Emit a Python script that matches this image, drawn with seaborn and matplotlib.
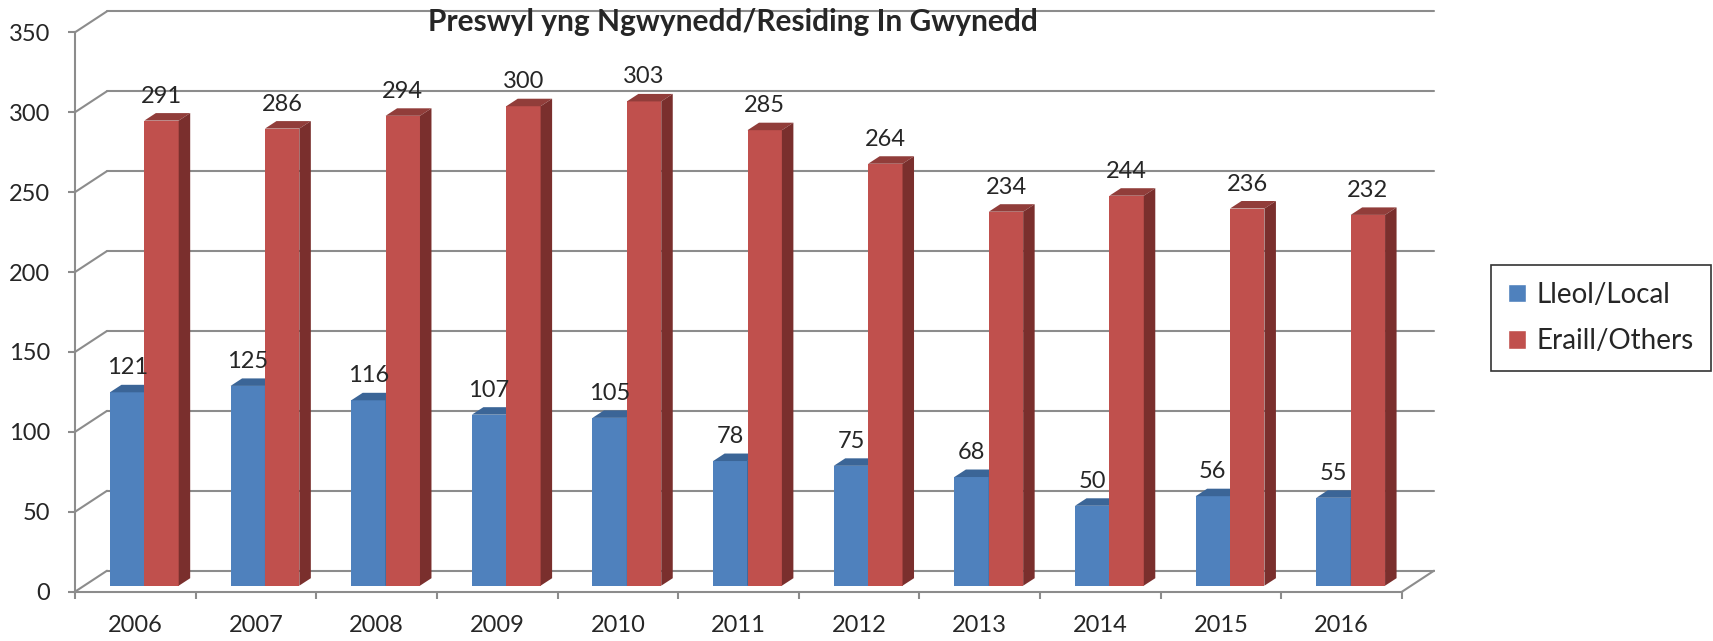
import pandas as pd
import matplotlib
matplotlib.use("Agg")
import matplotlib.pyplot as plt
import seaborn as sns
from matplotlib.patches import Polygon
from matplotlib.transforms import ScaledTranslation

# chart data
years = ["2006", "2007", "2008", "2009", "2010", "2011", "2012", "2013", "2014", "2015", "2016"]
local = [121, 125, 116, 107, 105, 78, 75, 68, 50, 56, 55]
others = [291, 286, 294, 300, 303, 285, 264, 234, 244, 236, 232]
groups = ["Lleol/Local", "Eraill/Others"]
y_ticks = [0, 50, 100, 150, 200, 250, 300, 350]

df = pd.DataFrame({
    "Year": years * 2,
    "Count": local + others,
    "Group": [groups[0]] * len(years) + [groups[1]] * len(years),
})

sns.set_style("white")
plt.rcParams["font.family"] = ["Lato", "DejaVu Sans"]

blue, red = "#4F81BD", "#C0504D"
tops = ["#3B6597", "#913D3A"]
sides = ["#30537E", "#7A2F2D"]
grid_c = "#8C8C8C"

W, H, DPI = 1713, 641, 100
fig = plt.figure(figsize=(W / DPI, H / DPI), dpi=DPI)
ax = fig.add_axes([75 / W, (H - 591.7) / H, (1402 - 75) / W, (591.7 - 32.3) / H])

sns.barplot(data=df, x="Year", y="Count", hue="Group", palette=[blue, red],
            width=0.57, saturation=1, ax=ax)

n = len(years)
ax.set_xlim(-0.5, n - 0.5)
ax.set_ylim(0, 350)
ax.set_xlabel("")
ax.set_ylabel("")

# pixels per data unit
xs = (1402 - 75) / n
ys = (591.7 - 32.3) / 350

# 3d look: back wall offset, bar offset and bar depth (pixels)
bx, by = 32 / xs, 21 / ys
shift = ax.transData + ScaledTranslation(9 / DPI, 6 / DPI, fig.dpi_scale_trans)
dx, dy = 11.5 / xs, 7.5 / ys

# back wall gridlines and perspective lines
for y in y_ticks:
    ax.plot([-0.5 + bx, n - 0.5 + bx], [y + by, y + by], color=grid_c, lw=1.5,
            clip_on=False, zorder=0.5)
    ax.plot([-0.5, -0.5 + bx], [y, y + by], color=grid_c, lw=1.5,
            clip_on=False, zorder=0.5)
ax.plot([n - 0.5, n - 0.5 + bx], [0, by], color=grid_c, lw=1.5, clip_on=False, zorder=0.5)

# bar faces + labels
for i, cont in enumerate(ax.containers):
    for bar, val in zip(cont, [local, others][i]):
        x0 = bar.get_x()
        x1 = x0 + bar.get_width()
        h = bar.get_height()
        bar.set_transform(shift)
        bar.set_zorder(2 + i)
        bar.set_edgecolor("none")
        top = Polygon([(x0, h), (x1, h), (x1 + dx, h + dy), (x0 + dx, h + dy)],
                      closed=True, facecolor=tops[i], edgecolor="none",
                      transform=shift, zorder=2 + i)
        side = Polygon([(x1, 0), (x1 + dx, dy), (x1 + dx, h + dy), (x1, h)],
                       closed=True, facecolor=sides[i], edgecolor="none",
                       transform=shift, zorder=2 + i)
        ax.add_patch(top)
        ax.add_patch(side)
        ax.annotate(str(val), xy=((x0 + x1) / 2, h), xycoords=shift,
                    xytext=(0, 18 * 72 / DPI), textcoords="offset points",
                    ha="center", va="baseline", fontsize=17, zorder=5)

# axes styling
for s in ["top", "right"]:
    ax.spines[s].set_visible(False)
for s in ["left", "bottom"]:
    ax.spines[s].set_color(grid_c)
    ax.spines[s].set_linewidth(1.5)

ax.set_yticks(y_ticks)
ax.tick_params(axis="y", length=5, width=1.5, color=grid_c, pad=13, labelsize=17,
               left=True, direction="out")
ax.set_xticks(range(n))
ax.set_xticklabels(years)
ax.set_xticks([k - 0.5 for k in range(n + 1)], minor=True)
ax.tick_params(axis="x", which="major", length=0, pad=17, labelsize=17)
ax.tick_params(axis="x", which="minor", length=5, width=1.5, color=grid_c,
               bottom=True, direction="out")

fig.text(733 / W, 1 - 22 / H, "Preswyl yng Ngwynedd/Residing In Gwynedd",
         ha="center", va="center", fontsize=21.5, fontweight="bold")

handles, labels = ax.get_legend_handles_labels()
leg = ax.legend(handles, labels, loc="center left",
                bbox_to_anchor=(1491 / W, 1 - 318 / H), bbox_transform=fig.transFigure,
                frameon=True, fancybox=False, fontsize=20, handlelength=0.65,
                handleheight=0.65, handletextpad=0.4, labelspacing=0.75,
                borderpad=0.6, borderaxespad=0)
leg.get_frame().set_edgecolor("black")
leg.get_frame().set_linewidth(1.2)

fig.savefig("out.png", dpi=DPI)
